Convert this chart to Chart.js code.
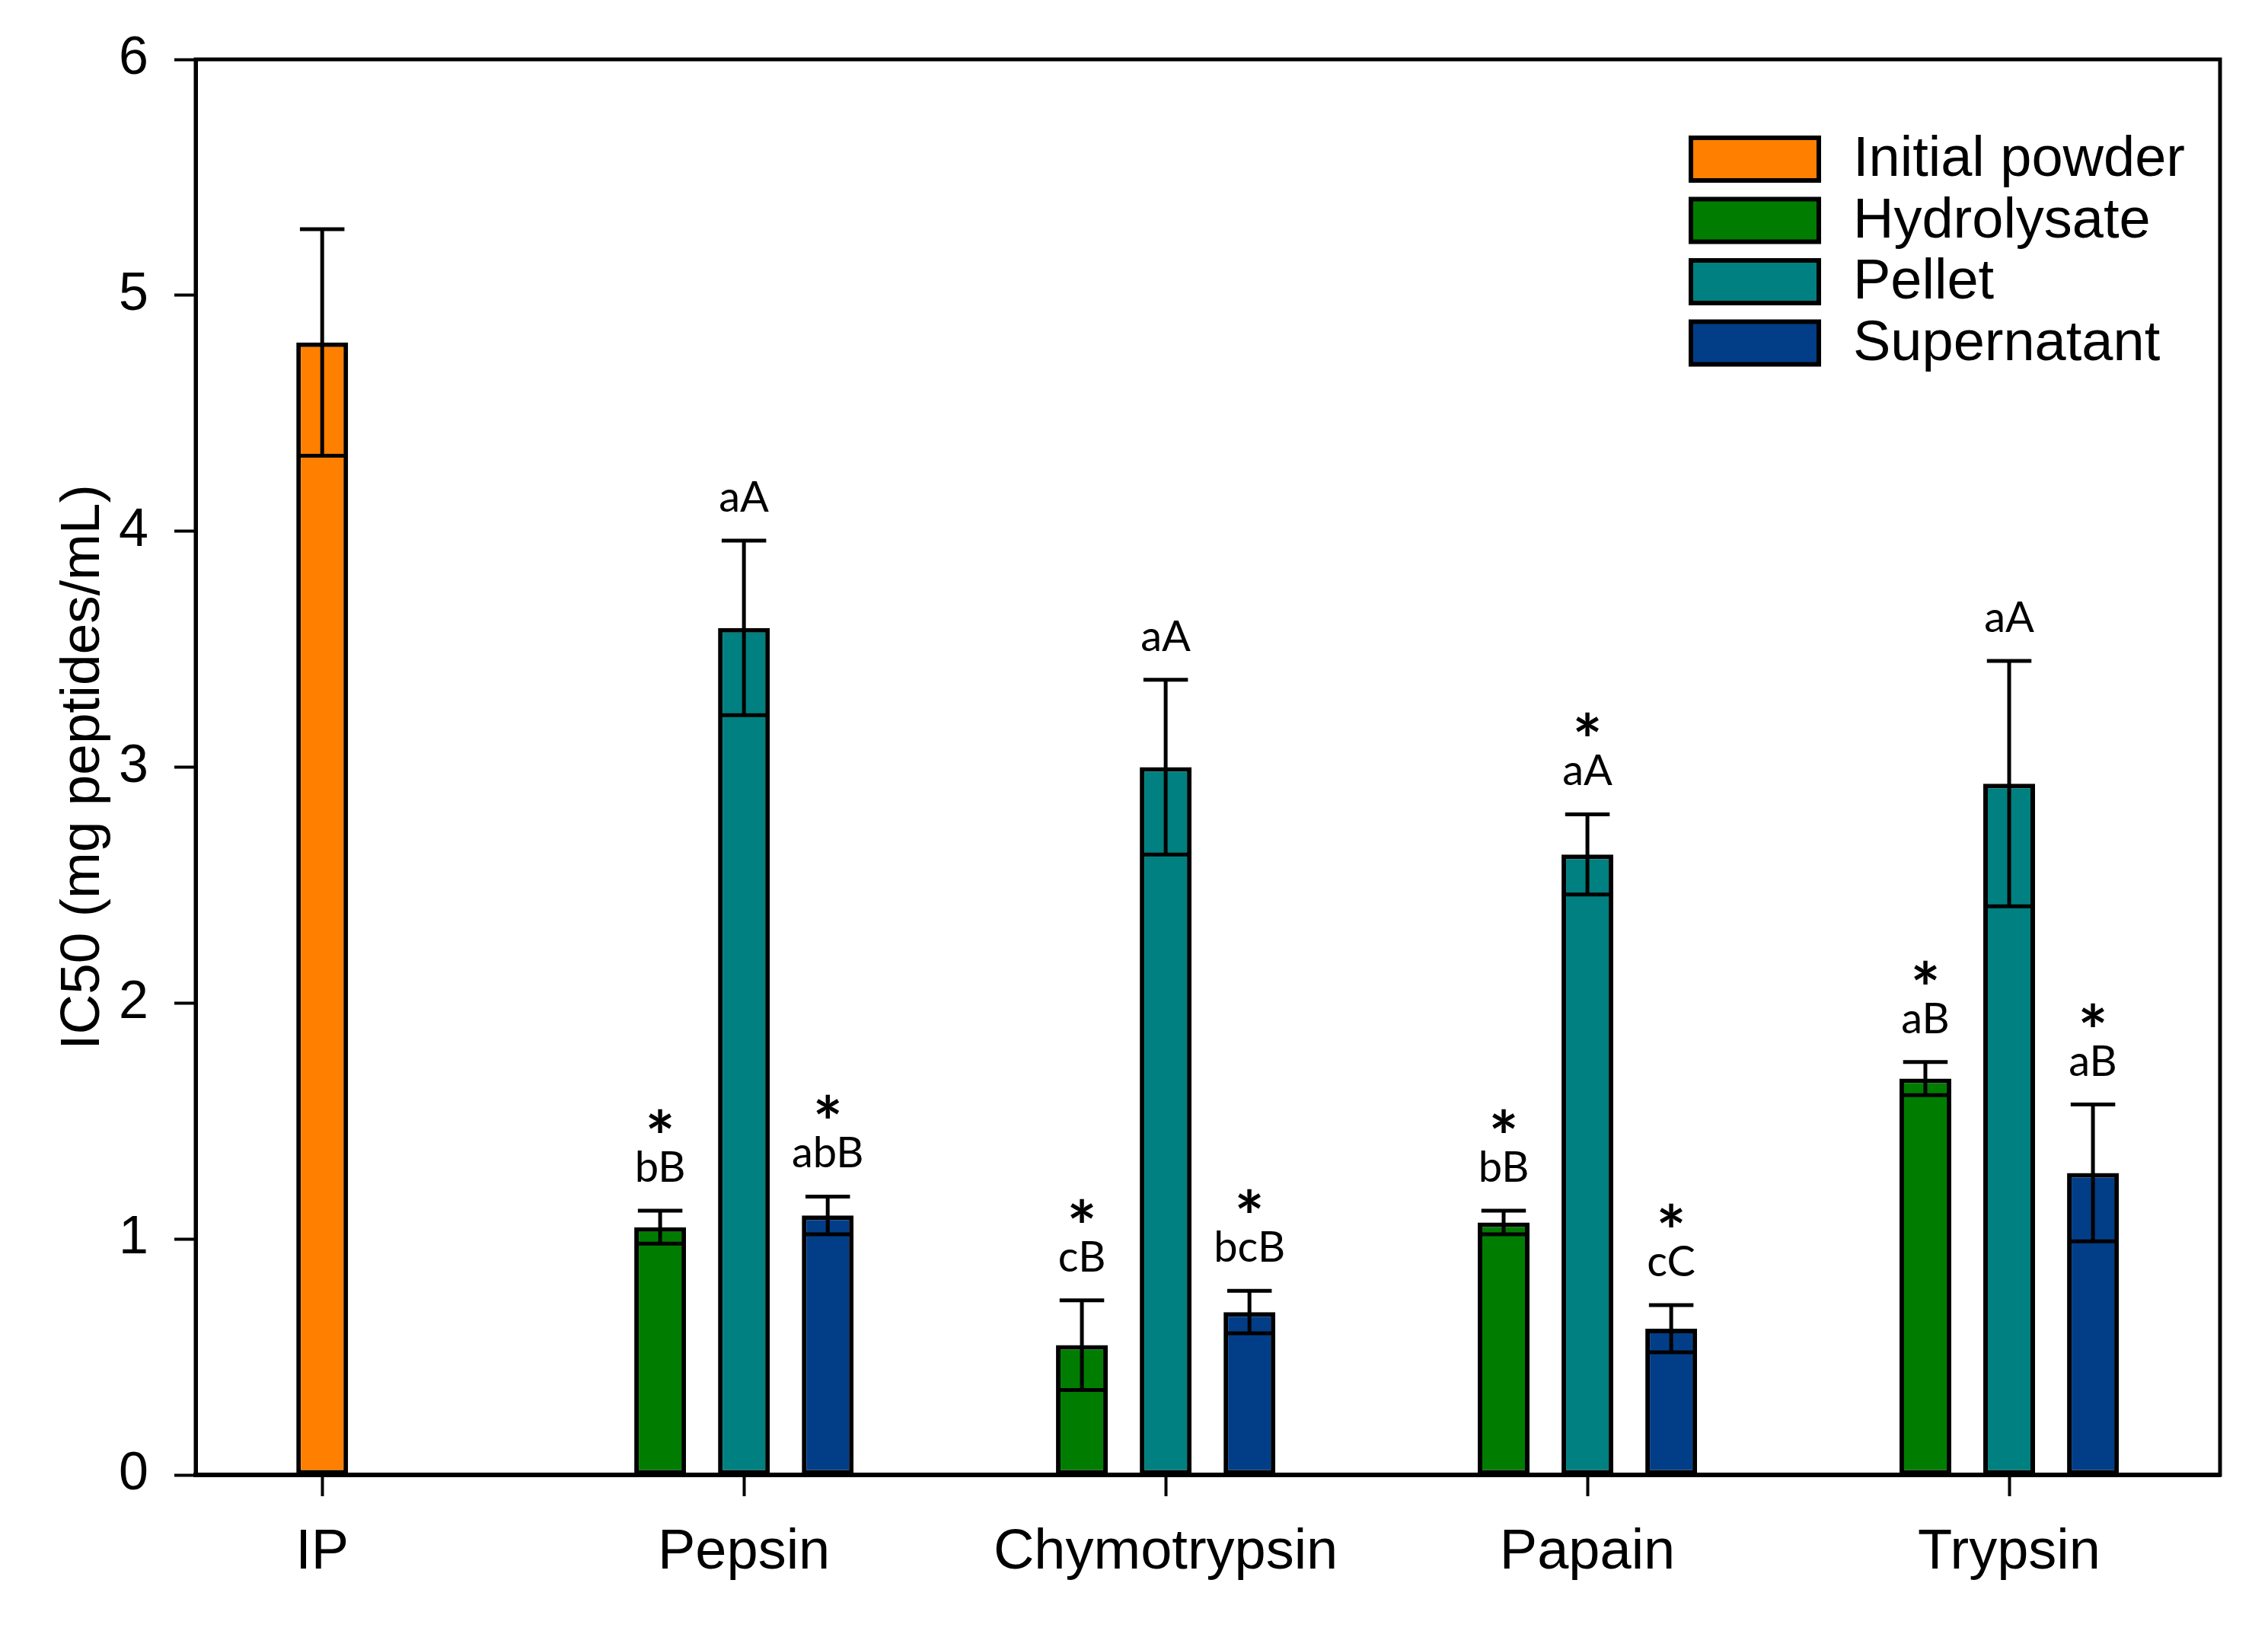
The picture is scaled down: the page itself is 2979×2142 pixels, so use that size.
<!DOCTYPE html>
<html>
<head>
<meta charset="utf-8">
<script src="https://cdn.jsdelivr.net/npm/chart.js@4.4.0/dist/chart.umd.min.js"></script>
<style>
  html, body { margin: 0; padding: 0; background: #fff; }
  #wrap { width: 2979px; height: 2142px; }
</style>
</head>
<body>
<div id="wrap"><canvas id="chart"></canvas></div>
<script>
// categories and series
const categories = ['IP', 'Pepsin', 'Chymotrypsin', 'Papain', 'Trypsin'];
const seriesNames = ['Initial powder', 'Hydrolysate', 'Pellet', 'Supernatant'];
const seriesColors = ['#ff8000', '#007d00', '#008080', '#023e88'];

// IC50 means (mg peptides/mL)
const initialPowder = [4.80, null, null, null, null];
const hydrolysate = [null, 1.05, 0.55, 1.07, 1.68];
const pellet = [null, 3.59, 3.00, 2.63, 2.93];
const supernatant = [null, 1.10, 0.69, 0.62, 1.28];

// error bars (+/-)
const initialPowderErr = [0.48, null, null, null, null];
const hydrolysateErr = [null, 0.07, 0.19, 0.05, 0.07];
const pelletErr = [null, 0.37, 0.37, 0.17, 0.52];
const supernatantErr = [null, 0.08, 0.09, 0.10, 0.29];

// significance letters and asterisks
const initialPowderLetters = ['', '', '', '', ''];
const hydrolysateLetters = ['', 'bB', 'cB', 'bB', 'aB'];
const pelletLetters = ['', 'aA', 'aA', 'aA', 'aA'];
const supernatantLetters = ['', 'abB', 'bcB', 'cC', 'aB'];
const initialPowderStars = [false, false, false, false, false];
const hydrolysateStars = [false, true, true, true, true];
const pelletStars = [false, false, false, true, false];
const supernatantStars = [false, true, true, true, true];

const yTicks = [0, 1, 2, 3, 4, 5, 6];

const values = [initialPowder, hydrolysate, pellet, supernatant];
const errors = [initialPowderErr, hydrolysateErr, pelletErr, supernatantErr];
const letters = [initialPowderLetters, hydrolysateLetters, pelletLetters, supernatantLetters];
const stars = [initialPowderStars, hydrolysateStars, pelletStars, supernatantStars];

const datasets = seriesNames.map((name, s) => ({
  label: name,
  data: values[s].map((v, i) => ({ x: i, y: v })),
  backgroundColor: seriesColors[s],
  borderColor: '#000',
  borderWidth: 6,
  borderSkipped: false,
  errors: errors[s],
  letters: letters[s],
  stars: stars[s]
}));

// error bars + letters above them
const errorBars = {
  id: 'errorBars',
  afterDatasetsDraw(chart) {
    const ctx = chart.ctx;
    const y = chart.scales.y;
    ctx.save();
    chart.data.datasets.forEach((ds, s) => {
      const meta = chart.getDatasetMeta(s);
      values[s].forEach((v, i) => {
        if (v == null) return;
        const bar = meta.data[i];
        const e = ds.errors[i];
        const top = y.getPixelForValue(v + e);
        const bot = y.getPixelForValue(v - e);
        const half = bar.width * 0.43;
        ctx.strokeStyle = '#000';
        ctx.lineWidth = 5;
        ctx.beginPath();
        ctx.moveTo(bar.x, top); ctx.lineTo(bar.x, bot);
        ctx.moveTo(bar.x - half, top); ctx.lineTo(bar.x + half, top);
        ctx.moveTo(bar.x - half, bot); ctx.lineTo(bar.x + half, bot);
        ctx.stroke();

        const txt = ds.letters[i];
        if (txt) {
          const base = top - 38;
          ctx.fillStyle = '#000';
          ctx.textAlign = 'center';
          ctx.textBaseline = 'alphabetic';
          ctx.font = '56px Lato';
          ctx.fillText(txt, bar.x, base);
          if (ds.stars[i]) {
            ctx.font = 'bold 92px Lato';
            const m = ctx.measureText('*');
            const center = base - 80;
            ctx.fillText('*', bar.x, center + (m.actualBoundingBoxAscent - m.actualBoundingBoxDescent) / 2);
          }
        }
      });
    });
    ctx.restore();
  }
};

// box around the plot
const frame = {
  id: 'frame',
  afterDatasetsDraw(chart) {
    const { ctx, chartArea: a } = chart;
    ctx.save();
    ctx.strokeStyle = '#000';
    ctx.lineWidth = 5;
    ctx.strokeRect(a.left, a.top, a.right - a.left, a.bottom - a.top);
    ctx.restore();
  }
};

// legend inside the plot, top right
const insideLegend = {
  id: 'insideLegend',
  afterDraw(chart) {
    const ctx = chart.ctx;
    ctx.save();
    chart.data.datasets.forEach((ds, s) => {
      const bx = 2221, by = 181 + s * 80.5, bw = 168, bh = 56;
      ctx.fillStyle = ds.backgroundColor;
      ctx.fillRect(bx, by, bw, bh);
      ctx.strokeStyle = '#000';
      ctx.lineWidth = 6;
      ctx.strokeRect(bx, by, bw, bh);
      ctx.fillStyle = '#000';
      ctx.font = '74px "Liberation Sans"';
      ctx.textAlign = 'left';
      ctx.textBaseline = 'middle';
      ctx.fillText(ds.label, 2434, by + bh / 2 + 2);
    });
    ctx.restore();
  }
};

const ctx = document.getElementById('chart').getContext('2d');
const chart = new Chart(ctx, {
  type: 'bar',
  data: { datasets },
  options: {
    responsive: true,
    maintainAspectRatio: false,
    animation: false,
    skipNull: true,
    categoryPercentage: 0.596,
    barPercentage: 0.62,
    maxBarThickness: 68,
    layout: { padding: { top: 78, right: 63, left: 0, bottom: 0 } },
    plugins: {
      legend: { display: false },
      tooltip: { enabled: false }
    },
    scales: {
      x: {
        type: 'linear',
        min: -0.3,
        max: 4.5,
        offset: false,
        afterBuildTicks: (axis) => { axis.ticks = categories.map((c, i) => ({ value: i })); },
        afterFit: (axis) => { axis.height = 205; },
        ticks: {
          callback: (v) => categories[v],
          autoSkip: false,
          maxRotation: 0,
          color: '#000',
          padding: 30,
          font: { family: '"Liberation Sans"', size: 74 }
        },
        grid: { offset: false, drawOnChartArea: false, drawTicks: true, tickLength: 28, tickWidth: 4, tickColor: '#000' },
        border: { display: true, color: '#000', width: 6 }
      },
      y: {
        min: 0,
        max: 6,
        afterBuildTicks: (axis) => { axis.ticks = yTicks.map(v => ({ value: v })); },
        afterFit: (axis) => { axis.width = 257; },
        ticks: {
          color: '#000',
          padding: 34,
          font: { family: '"Liberation Sans"', size: 70 }
        },
        grid: { drawOnChartArea: false, drawTicks: true, tickLength: 28, tickWidth: 4, tickColor: '#000' },
        border: { display: true, color: '#000', width: 5 },
        title: {
          display: true,
          text: 'IC50 (mg peptides/mL)',
          color: '#000',
          padding: { top: 66, bottom: 0 },
          font: { family: '"Liberation Sans"', size: 73 }
        }
      }
    }
  },
  plugins: [errorBars, frame, insideLegend]
});
</script>
</body>
</html>
